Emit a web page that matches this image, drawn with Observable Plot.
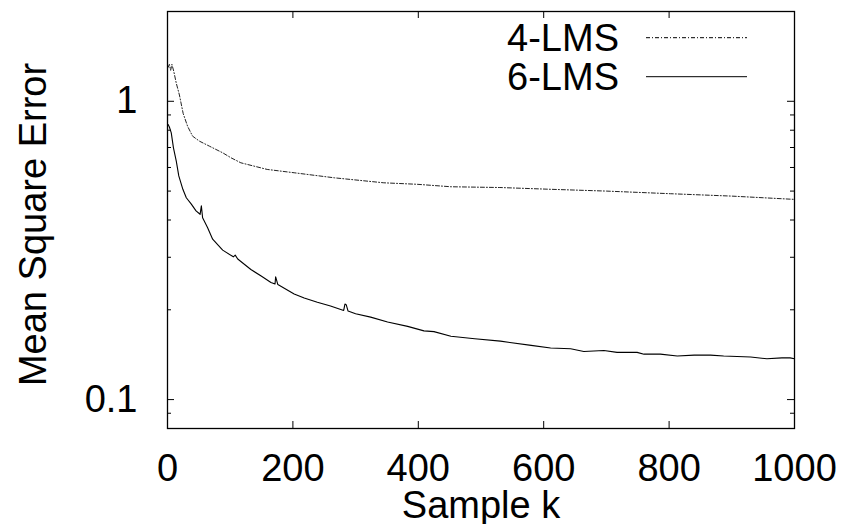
<!DOCTYPE html>
<html>
<head>
<meta charset="utf-8">
<script src="https://cdn.jsdelivr.net/npm/d3@7"></script>
<script src="https://cdn.jsdelivr.net/npm/@observablehq/plot@0.6"></script>
<style>
  html, body { margin: 0; padding: 0; background: #fff; }
</style>
</head>
<body>
<div id="chart"></div>
<script>
// ---- data ----
const seriesNames = ["4-LMS", "6-LMS"];

const k4 = [1, 3, 5, 7, 10, 14, 19, 25, 32, 40, 51, 67, 88, 101, 117, 159, 202, 266, 345, 398, 452, 530, 611, 700, 802, 900, 1000];
const mse4 = [1.30, 1.33, 1.27, 1.33, 1.26, 1.15, 1.05, 0.91, 0.825, 0.764, 0.735, 0.707, 0.672, 0.647, 0.622, 0.591, 0.576, 0.554, 0.533, 0.527, 0.517, 0.514, 0.507, 0.500, 0.490, 0.481, 0.469];

const k6 = [1, 3, 6, 9.5, 14, 18, 24.5, 30, 38, 45.5, 52, 54, 56, 64, 72, 88, 105, 108, 112, 133, 150, 165, 171.5, 172.5, 176, 202, 218, 239, 260, 281, 283, 285, 288, 300, 324, 351, 383, 409, 425, 452, 490, 531, 580, 611, 643, 664, 696, 717, 749, 760, 786, 813, 840, 866, 887, 930, 956, 980, 993, 1000];
const mse6 = [0.836, 0.82, 0.784, 0.698, 0.63, 0.562, 0.507, 0.475, 0.452, 0.429, 0.418, 0.446, 0.407, 0.377, 0.345, 0.317, 0.301, 0.305, 0.296, 0.273, 0.259, 0.247, 0.244, 0.258, 0.243, 0.226, 0.219, 0.212, 0.206, 0.199, 0.209, 0.208, 0.198, 0.194, 0.189, 0.182, 0.176, 0.170, 0.169, 0.163, 0.160, 0.157, 0.152, 0.149, 0.148, 0.145, 0.146, 0.144, 0.144, 0.142, 0.142, 0.140, 0.141, 0.141, 0.140, 0.139, 0.137, 0.138, 0.138, 0.137];

const xTicks = [0, 200, 400, 600, 800, 1000];
const yMajor = [0.1, 1];
const yMinor = [0.09, 0.2, 0.3, 0.4, 0.5, 0.6, 0.7, 0.8, 0.9];
const xDomain = [0, 1000];
const yDomain = [0.08, 2];

// ---- build tables ----
const data4 = k4.map((k, i) => ({k, mse: mse4[i]}));
const data6 = k6.map((k, i) => ({k, mse: mse6[i]}));

const W = 843, H = 524;
const mL = 167, mR = 49, mT = 11, mB = 96;
const innerW = W - mL - mR, innerH = H - mT - mB;
const FONT = "'Liberation Sans', Arial, Helvetica, sans-serif";

const dashDot = "4,2,1,2";

function legendMark(index, scales, values, dims) {
  const g = d3.create("svg:g");
  const right = dims.width - dims.marginRight;
  const top = dims.marginTop;
  const styles = [dashDot, null];
  seriesNames.forEach((name, i) => {
    const cy = top + 26.7 + i * 39;
    g.append("text")
      .attr("x", right - 175).attr("y", cy).attr("dy", "0.35em")
      .attr("text-anchor", "end").attr("fill", "black")
      .attr("font-size", 38)
      .text(name);
    const ln = g.append("line")
      .attr("x1", right - 148).attr("x2", right - 47)
      .attr("y1", cy).attr("y2", cy)
      .attr("stroke", "black").attr("stroke-width", 1);
    if (styles[i]) ln.attr("stroke-dasharray", styles[i]);
  });
  return g.node();
}

const chart = Plot.plot({
  width: W, height: H,
  marginLeft: mL, marginRight: mR, marginTop: mT, marginBottom: mB,
  style: {fontFamily: FONT, fontSize: "38px", background: "white", color: "black"},
  x: {domain: xDomain, axis: null},
  y: {type: "log", domain: yDomain, axis: null},
  marks: [
    // tick labels
    Plot.axisX(xTicks, {anchor: "bottom", tickSize: 0, tickPadding: 26, tickFormat: d => String(d), label: null, fontSize: 38}),
    Plot.axisY(yMajor, {anchor: "left", tickSize: 0, tickPadding: 30, tickFormat: d => String(d), label: null, fontSize: 38}),
    // inward ticks, mirrored
    Plot.tickX(xTicks, {x: d => d, insetTop: innerH - 7, stroke: "black", strokeWidth: 1}),
    Plot.tickX(xTicks, {x: d => d, insetBottom: innerH - 7, stroke: "black", strokeWidth: 1}),
    Plot.tickY(yMajor, {y: d => d, insetRight: innerW - 7, stroke: "black", strokeWidth: 1}),
    Plot.tickY(yMajor, {y: d => d, insetLeft: innerW - 7, stroke: "black", strokeWidth: 1}),
    Plot.tickY(yMinor, {y: d => d, insetRight: innerW - 4, stroke: "black", strokeWidth: 1}),
    Plot.tickY(yMinor, {y: d => d, insetLeft: innerW - 4, stroke: "black", strokeWidth: 1}),
    // series
    Plot.line(data4, {x: "k", y: "mse", stroke: "#222", strokeWidth: 1, strokeDasharray: dashDot}),
    Plot.line(data6, {x: "k", y: "mse", stroke: "black", strokeWidth: 1.1}),
    // axis titles
    Plot.text(["Sample k"], {text: d => d, frameAnchor: "bottom", textAnchor: "middle", dy: 77, lineAnchor: "middle", fontSize: 38, fill: "black"}),
    Plot.text(["Mean Square Error"], {text: d => d, frameAnchor: "left", textAnchor: "middle", dx: -134, dy: 4.5, rotate: -90, lineAnchor: "middle", fontSize: 38, fill: "black"}),
    // legend
    legendMark,
    Plot.frame({stroke: "black", strokeWidth: 1.3})
  ]
});
document.getElementById("chart").append(chart);
</script>
</body>
</html>
